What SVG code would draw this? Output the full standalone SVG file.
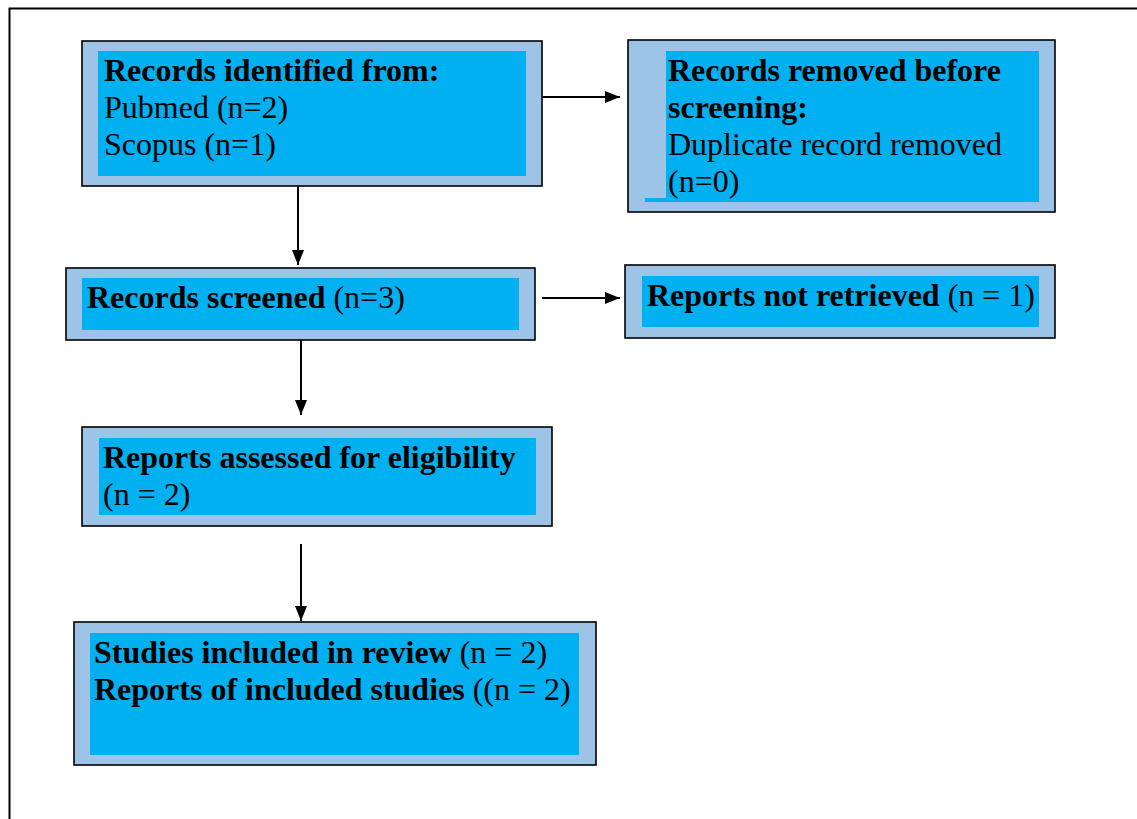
<svg xmlns="http://www.w3.org/2000/svg" width="1137" height="819" viewBox="0 0 1137 819">
<style>
.outer{fill:#9DC3E6;stroke:#000;stroke-width:1.6}
.inner{fill:#00B0F0}
text{font-family:"Liberation Serif","Times New Roman",serif;font-size:32px;fill:#000}
.b{font-weight:bold}
.conn line{stroke:#000;stroke-width:2}
</style>
<defs>
<marker id="ah" markerUnits="userSpaceOnUse" markerWidth="16" markerHeight="14" refX="15" refY="6" orient="auto">
<path d="M0,0 L15,6 L0,12 Z" fill="#000"/>
</marker>
</defs>
<rect x="9.5" y="8.5" width="1140" height="820" fill="#fff" stroke="#000" stroke-width="2"/>
<g id="n1">
<rect class="outer" x="82" y="41" width="460" height="145"/>
<rect class="inner" x="98" y="51" width="428" height="125"/>
<text x="104" y="81" class="b">Records identified from:</text>
<text x="104" y="118">Pubmed (n=2)</text>
<text x="104" y="155">Scopus (n=1)</text>
</g>
<g id="n2">
<rect class="outer" x="628" y="40" width="427" height="172"/>
<rect class="inner" x="666" y="51" width="373" height="151"/>
<rect class="inner" x="645" y="198" width="22" height="4"/>
<text x="668" y="81" class="b">Records removed before</text>
<text x="668" y="118" class="b">screening:</text>
<text x="668" y="155">Duplicate record removed</text>
<text x="668" y="192">(n=0)</text>
</g>
<g id="n3">
<rect class="outer" x="66" y="268" width="469" height="72"/>
<rect class="inner" x="82" y="278" width="437" height="52"/>
<text x="87" y="308"><tspan class="b">Records screened</tspan> (n=3)</text>
</g>
<g id="n4">
<rect class="outer" x="625" y="265" width="430" height="73"/>
<rect class="inner" x="642" y="276" width="397" height="51"/>
<text x="647" y="306"><tspan class="b">Reports not retrieved</tspan> (n = 1)</text>
</g>
<g id="n5">
<rect class="outer" x="82" y="427" width="470" height="99"/>
<rect class="inner" x="99" y="438" width="437" height="77"/>
<text x="103" y="468" class="b">Reports assessed for eligibility</text>
<text x="103" y="505">(n = 2)</text>
</g>
<g id="n6">
<rect class="outer" x="74" y="622" width="522" height="143"/>
<rect class="inner" x="90" y="633" width="489" height="122"/>
<text x="94" y="663"><tspan class="b">Studies included in review</tspan> (n = 2)</text>
<text x="94" y="700"><tspan class="b">Reports of included studies</tspan> ((n = 2)</text>
</g>
<g id="connectors" class="conn">
<line x1="542" y1="97" x2="620" y2="97" marker-end="url(#ah)"/>
<line x1="298" y1="186" x2="298" y2="265" marker-end="url(#ah)"/>
<line x1="542" y1="298" x2="620" y2="298" marker-end="url(#ah)"/>
<line x1="301" y1="340" x2="301" y2="415" marker-end="url(#ah)"/>
<line x1="301" y1="544" x2="301" y2="621" marker-end="url(#ah)"/>
</g>
</svg>
